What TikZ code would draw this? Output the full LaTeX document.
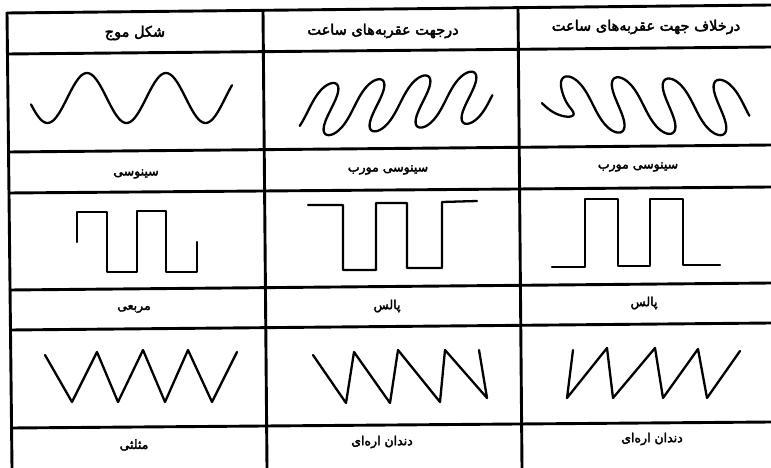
\documentclass[tikz,border=0pt]{standalone}
\usepackage{fontspec}
\newfontfamily\fa[Script=Arabic,FakeBold=2.8]{DejaVu Sans}
\TeXXeTstate=1
\tikzset{
  gridline/.style={line width=2.9pt, black},
  wave/.style={line width=2.3pt, black, line join=round, line cap=round},
  lbl/.style={inner sep=0pt, font=\fa\fontsize{12.5}{14}\selectfont},
  hdr/.style={inner sep=0pt, font=\fa\fontsize{14.5}{16}\selectfont}
}
\begin{document}
\begin{tikzpicture}[x=1pt,y=-1pt,
  declare function={sg(\u)=\u/sqrt(1+\u*\u);}]
\useasboundingbox (0,0) rectangle (771,468);
\fill[white] (0,0) rectangle (771,468);
% grid
\draw[gridline] (7,13) -- (771,5);
\draw[gridline] (7,54) -- (771,47);
\draw[gridline] (8,152) -- (771,145);
\draw[gridline] (8,193) -- (771,187);
\draw[gridline] (9,290) -- (771,283);
\draw[gridline] (10,330) -- (771,323);
\draw[gridline] (11,428) -- (771,422);
\draw[gridline] (7,12) -- (12,468);
\draw[gridline] (263,10) -- (267,468);
\draw[gridline] (518,8) -- (522,468);
% header
\node[hdr] (h1) at (135,33) {\beginR شکل موج\endR};
\node[hdr] (h2) at (383,31) {\beginR درجهت عقربه‌های ساعت\endR};
\node[hdr] (h3) at (646,27) {\beginR درخلاف جهت عقربه‌های ساعت\endR};
% labels
\node[lbl] (a1) at (136,174) {\beginR سینوسی\endR};
\node[lbl] (a2) at (388,170) {\beginR سینوسی مورب\endR};
\node[lbl] (a3) at (638,167) {\beginR سینوسی مورب\endR};
\node[lbl] (b1) at (134,309) {\beginR مربعی\endR};
\node[lbl] (b2) at (387,306) {\beginR پالس\endR};
\node[lbl] (b3) at (644,303) {\beginR پالس\endR};
\node[lbl] (c1) at (134,445) {\beginR مثلثی\endR};
\node[lbl] (c2) at (382,442) {\beginR دندان اره‌ای\endR};
\node[lbl] (c3) at (652,439) {\beginR دندان اره‌ای\endR};
% sine
\draw[wave] plot[domain=31:232, samples=120, smooth] (\x, {98-25*sin((\x-67.25)*4.557)});
% slanted sine clockwise
\draw[wave] plot[variable=\t, domain=1.0:26.73, samples=300, smooth]
  ({296.5+7.32*\t-13.5*cos(\t r)+3.5*sin(2*\t r)}, {111.9+27*cos(\t r)-0.6*\t});
% slanted sine counterclockwise
\draw[wave] plot[variable=\t, domain=-4.712:20.70, samples=300, smooth]
  ({580+8.1*\t-13*cos(\t r)+3.5*sin(2*\t r)}, {104-(28-7.5*(1-sg(2*(\t+1.5))))*cos(\t r)+0.2*\t});
% square
\draw[wave] (77,242) -- (77,212) -- (107,212) -- (107,272) -- (137,272) -- (137,211) -- (166,211) -- (166,272) -- (197,272) -- (197,242);
% pulse middle
\draw[wave] (308,205) -- (343,205) -- (343,270) -- (376,270) -- (376,203) -- (407,203) -- (407,268) -- (442,268) -- (442,202) -- (477,201);
% pulse right
\draw[wave] (552,267) -- (585,267) -- (585,199) -- (618,199) -- (618,266) -- (650,266) -- (650,199) -- (683,199) -- (683,265) -- (720,265);
% triangle
\draw[wave] (45,355) -- (72,402) -- (97,352) -- (118,402) -- (143,350) -- (165,402) -- (188,350) -- (212,402) -- (237,352);
% sawtooth middle
\draw[wave] (313,355) -- (346,403) -- (354,352) -- (390,403) -- (398,350) -- (440,402) -- (445,350) -- (487,398) -- (479,350);
% sawtooth right
\draw[wave] (573,350) -- (567,398) -- (607,348) -- (613,398) -- (655,348) -- (663,398) -- (698,349) -- (707,398) -- (740,351);
\end{tikzpicture}
\end{document}
